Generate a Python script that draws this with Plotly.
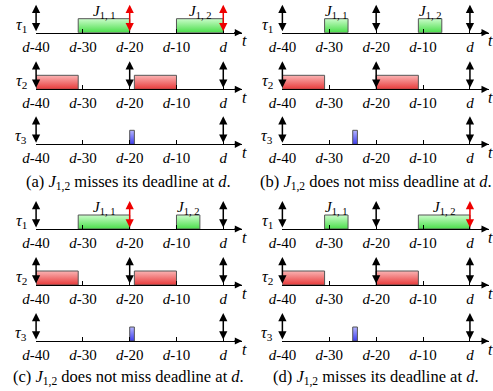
import plotly.graph_objects as go

# ---------------- data (time relative to deadline d) ----------------
tick_vals = [-40, -30, -20, -10, 0]
tick_text = ["<i>d</i>-40", "<i>d</i>-30", "<i>d</i>-20", "<i>d</i>-10", "<i>d</i>"]
task_names = ["<i>τ</i><sub>1</sub>", "<i>τ</i><sub>2</sub>", "<i>τ</i><sub>3</sub>"]
panel_ids = ["a", "b", "c", "d"]
captions = [
    "(a) <i>J</i><sub>1,2</sub> misses its deadline at <i>d</i>.",
    "(b) <i>J</i><sub>1,2</sub> does not miss deadline at <i>d</i>.",
    "(c) <i>J</i><sub>1,2</sub> does not miss deadline at <i>d</i>.",
    "(d) <i>J</i><sub>1,2</sub> misses its deadline at <i>d</i>.",
]

# execution intervals [start, end] per panel, per task
tau1_start = {"a": [-31, -10], "b": [-31, -11], "c": [-31, -10], "d": [-31, -11]}
tau1_end = {"a": [-20, 0], "b": [-26, -6], "c": [-20, -5], "d": [-26, 0]}
tau1_labels = ["<i>J</i><sub>1, 1</sub>", "<i>J</i><sub>1, 2</sub>"]
tau2_start = {"a": [-40, -19], "b": [-40, -20], "c": [-40, -19], "d": [-40, -20]}
tau2_end = {"a": [-31, -10], "b": [-31, -11], "c": [-31, -10], "d": [-31, -11]}
tau3_start = {"a": [-20], "b": [-25], "c": [-20], "d": [-25]}
tau3_end = {"a": [-19], "b": [-24], "c": [-19], "d": [-24]}

# release/deadline arrows (black) and missed-deadline arrows (red)
tau1_black = {"a": [-40], "b": [-40, -20, 0], "c": [-40, 0], "d": [-40, -20]}
tau1_red = {"a": [-20, 0], "b": [], "c": [-20], "d": [0]}
tau2_black = [-40, -20, 0]
tau3_black = [-40, 0]

# ---------------- styling ----------------
FONT = "Liberation Serif"
W, H = 493, 391
col_dom = [[36 / W, 242 / W], [282.3 / W, 488.7 / W]]
row_px = {"top": [32.7, 89.3, 144.3], "bottom": [229, 285, 341]}
ROW_H = 28.0
BAR_H = 0.5
X_END = 4
cap_x = [0.2613, 0.762]
cap_y = [1 - 183 / H, 1 - 377 / H]

fills = [
    ("#4ade4a", "#cafcca"),
    ("#e83a3a", "#fab4b4"),
    ("#3c3cf0", "#b4b4ff"),
]

fig = go.Figure()
layout = {}
annotations = []

idx = 0
for p, pid in enumerate(panel_ids):
    col = p % 2
    block = "top" if p < 2 else "bottom"
    starts = [tau1_start[pid], tau2_start[pid], tau3_start[pid]]
    ends = [tau1_end[pid], tau2_end[pid], tau3_end[pid]]
    blacks = [tau1_black[pid], tau2_black, tau3_black]
    reds = [tau1_red[pid], [], []]
    for r in range(3):
        idx += 1
        xa = "x" if idx == 1 else f"x{idx}"
        ya = "y" if idx == 1 else f"y{idx}"
        ypx = row_px[block][r]
        layout[f"xaxis{idx}"] = dict(
            domain=col_dom[col], anchor=ya, range=[-40.02, X_END],
            showline=True, linecolor="black", linewidth=1.2,
            ticks="inside", ticklen=4, tickwidth=1, tickcolor="black",
            tickvals=tick_vals, ticktext=tick_text, showgrid=False, zeroline=False,
            tickfont=dict(family=FONT, size=15, color="black"),
            fixedrange=True, automargin=False,
        )
        layout[f"yaxis{idx}"] = dict(
            domain=[1 - ypx / H, 1 - (ypx - ROW_H) / H], anchor=xa, range=[0, 1],
            visible=False, fixedrange=True, automargin=False,
        )
        dark, light = fills[r]
        for s, e in zip(starts[r], ends[r]):
            fig.add_trace(go.Scatter(
                x=[s, e, e, s, s], y=[0, 0, BAR_H, BAR_H, 0], mode="lines",
                line=dict(color="#555555", width=1), fill="toself",
                fillgradient=dict(type="vertical", colorscale=[[0, dark], [1, light]]),
                xaxis=xa, yaxis=ya, showlegend=False, hoverinfo="skip",
            ))
        if r == 0:
            for k, (s, e) in enumerate(zip(starts[r], ends[r])):
                annotations.append(dict(
                    x=(s + e) / 2, y=BAR_H, xref=xa, yref=ya, text=tau1_labels[k],
                    showarrow=False, yanchor="bottom", yshift=-4,
                    font=dict(family=FONT, size=15, color="black"),
                ))
        for t_list, colr in ((blacks[r], "black"), (reds[r], "#ee0000")):
            for t in t_list:
                annotations.append(dict(
                    x=t, y=1, ax=t, ay=0, xref=xa, yref=ya, axref=xa, ayref=ya,
                    text="", showarrow=True, arrowside="end+start",
                    arrowhead=2, startarrowhead=2, arrowsize=1.1, startarrowsize=1.1,
                    arrowwidth=1.5, arrowcolor=colr,
                ))
        # axis arrowhead
        annotations.append(dict(
            x=X_END, y=0, ax=X_END - 2, ay=0, xref=xa, yref=ya, axref=xa, ayref=ya,
            text="", showarrow=True, arrowhead=2, arrowsize=1.2, arrowwidth=1.2,
            arrowcolor="black",
        ))
        annotations.append(dict(
            x=X_END, y=0, xref=xa, yref=ya, text="<i>t</i>", showarrow=False,
            xshift=2, yshift=-8, font=dict(family=FONT, size=16, color="black"),
        ))
        annotations.append(dict(
            x=-40, y=0.27, xref=xa, yref=ya, text=task_names[r],
            showarrow=False, xshift=-15, font=dict(family=FONT, size=16, color="black"),
        ))
    annotations.append(dict(
        x=cap_x[col], y=cap_y[0 if p < 2 else 1], xref="paper", yref="paper",
        text=captions[p], showarrow=False, xanchor="center", yanchor="middle",
        font=dict(family=FONT, size=16.5, color="black"),
    ))

fig.update_layout(
    width=W, height=H, margin=dict(l=0, r=0, t=0, b=0, autoexpand=False),
    paper_bgcolor="white", plot_bgcolor="rgba(0,0,0,0)",
    annotations=annotations, showlegend=False, **layout,
)
fig.write_html(
    "out.html",
    config={"displayModeBar": False},
    post_script="document.body.style.margin='0';document.body.style.overflow='hidden';",
)
